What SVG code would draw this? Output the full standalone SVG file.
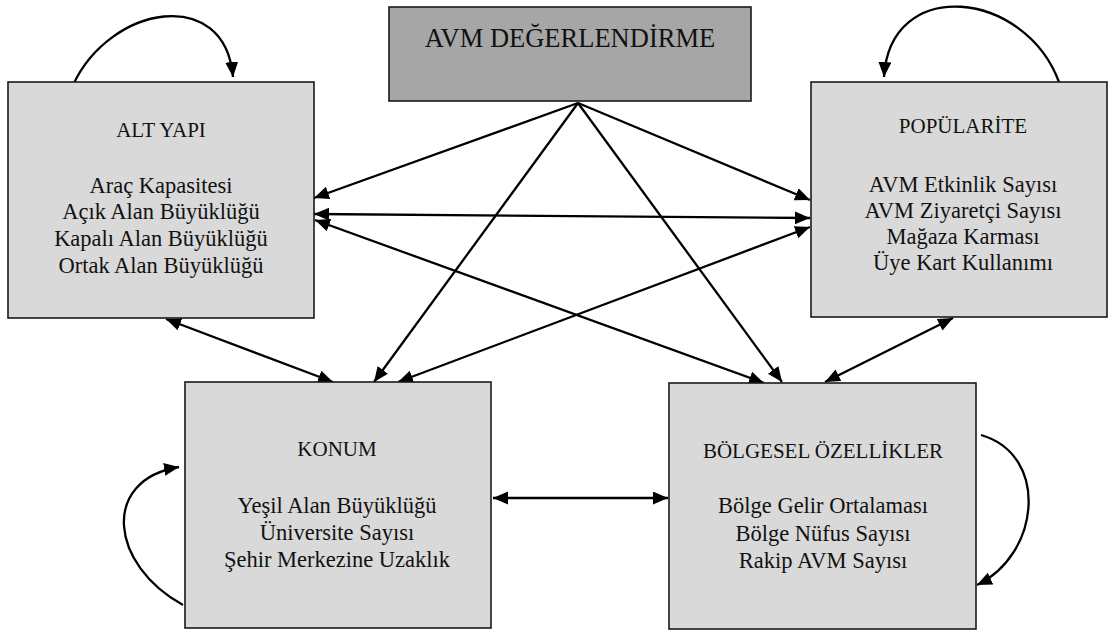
<svg xmlns="http://www.w3.org/2000/svg" width="1113" height="632" viewBox="0 0 1113 632">
<defs>
<style>
.box{fill:#d9d9d9;stroke:#1a1a1a;stroke-width:1.6}
.main{fill:#a6a6a6;stroke:#1a1a1a;stroke-width:1.6}
text{font-family:"Liberation Serif","Times New Roman",serif;fill:#111;text-anchor:middle}
.t{font-size:21px}
.b{font-size:22.5px}
.m{font-size:26.5px}
.c{fill:none;stroke:#000;stroke-width:2.3}
.a{marker-end:url(#ah)}
.d{marker-start:url(#ah);marker-end:url(#ah)}
</style>
<marker id="ah" markerUnits="userSpaceOnUse" markerWidth="16" markerHeight="14" refX="15" refY="6.5" orient="auto-start-reverse">
<path d="M0,0 L15,6.5 L0,13 z" fill="#000"/>
</marker>
</defs>
<rect width="1113" height="632" fill="#fff"/>
<g id="connectors">
<line class="c a" x1="578" y1="103" x2="314" y2="198"/>
<line class="c a" x1="578" y1="103" x2="810" y2="200"/>
<line class="c a" x1="578" y1="103" x2="374" y2="382"/>
<line class="c a" x1="578" y1="103" x2="782" y2="382"/>
<line class="c d" x1="314" y1="214" x2="810" y2="218"/>
<line class="c d" x1="315" y1="220" x2="764" y2="383"/>
<line class="c d" x1="810" y1="227" x2="398" y2="382"/>
<line class="c d" x1="166" y1="319" x2="333" y2="382"/>
<line class="c d" x1="953" y1="318" x2="825" y2="382"/>
<line class="c d" x1="493" y1="498" x2="668" y2="498"/>
<path class="c a" d="M73,85 C110,5 225,-15 233,77"/>
<path class="c a" d="M1059,82 C1025,-10 890,-25 884,77"/>
<path class="c a" d="M183,605 C110,565 100,480 179,467"/>
<path class="c a" d="M981,435 C1050,455 1040,555 977,585"/>
</g>
<g id="avm">
<rect class="main" x="389" y="7" width="362" height="94"/>
<text class="m" x="570" y="47">AVM DEĞERLENDİRME</text>
</g>
<g id="altyapi">
<rect class="box" x="8" y="82" width="306" height="236"/>
<text class="t" x="161" y="137">ALT YAPI</text>
<text class="b" x="161" y="193">Araç Kapasitesi</text>
<text class="b" x="161" y="219">Açık Alan Büyüklüğü</text>
<text class="b" x="161" y="246">Kapalı Alan Büyüklüğü</text>
<text class="b" x="161" y="273">Ortak Alan Büyüklüğü</text>
</g>
<g id="popularite">
<rect class="box" x="811" y="82" width="296" height="235"/>
<text class="t" x="963" y="133">POPÜLARİTE</text>
<text class="b" x="963" y="192">AVM Etkinlik Sayısı</text>
<text class="b" x="963" y="218">AVM Ziyaretçi Sayısı</text>
<text class="b" x="963" y="244">Mağaza Karması</text>
<text class="b" x="963" y="270">Üye Kart Kullanımı</text>
</g>
<g id="konum">
<rect class="box" x="185" y="382" width="306" height="246"/>
<text class="t" x="337" y="456">KONUM</text>
<text class="b" x="337" y="513">Yeşil Alan Büyüklüğü</text>
<text class="b" x="337" y="540">Üniversite Sayısı</text>
<text class="b" x="337" y="567">Şehir Merkezine Uzaklık</text>
</g>
<g id="bolgesel">
<rect class="box" x="669" y="383" width="307" height="246"/>
<text class="t" x="823" y="458">BÖLGESEL ÖZELLİKLER</text>
<text class="b" x="823" y="513">Bölge Gelir Ortalaması</text>
<text class="b" x="823" y="541">Bölge Nüfus Sayısı</text>
<text class="b" x="823" y="568">Rakip AVM Sayısı</text>
</g>
</svg>
